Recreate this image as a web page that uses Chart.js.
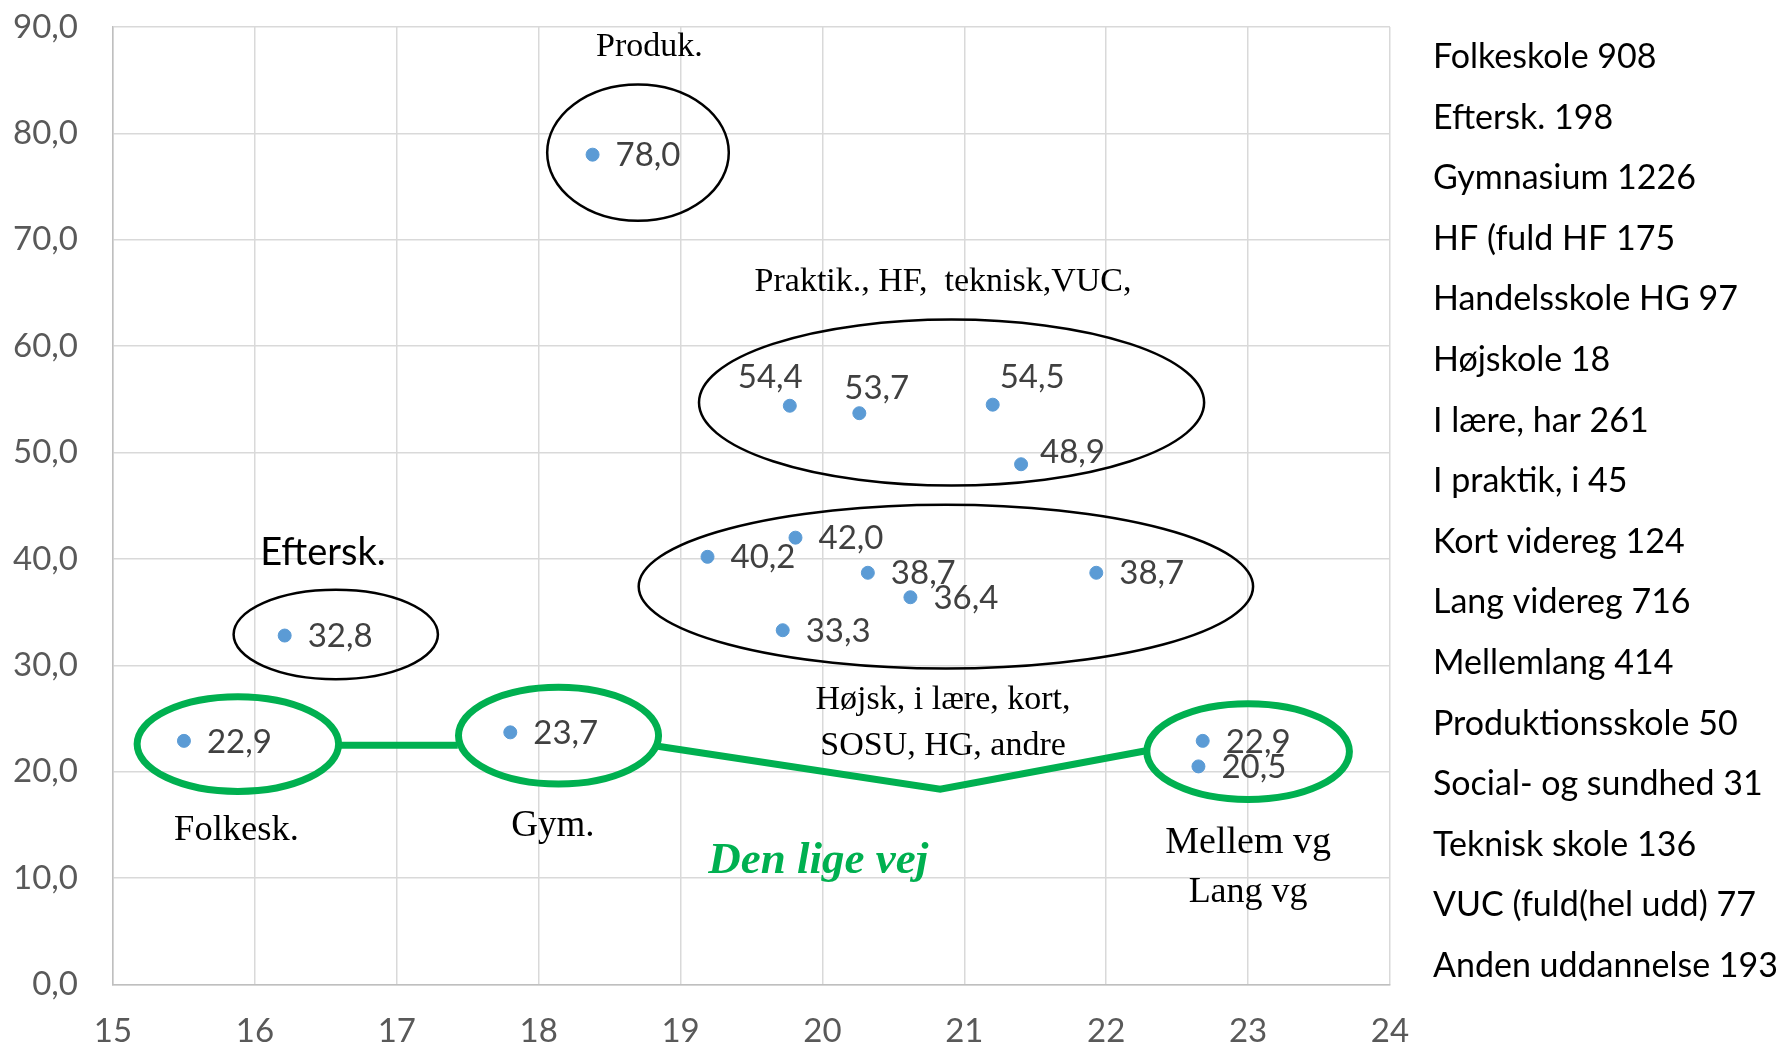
<!DOCTYPE html>
<html>
<head>
<meta charset="utf-8">
<script src="https://cdn.jsdelivr.net/npm/chart.js@4.4.1/dist/chart.umd.min.js"></script>
<style>
    html, body { margin: 0; padding: 0; background: #fff; }
</style>
</head>
<body>
<canvas id="myChart" width="1785" height="1047"></canvas>
<script>
// punkterne: alder (x) og andel (y)
let ages = [15.5, 16.21, 17.8, 18.38, 19.77, 20.26, 21.2, 21.4, 19.19, 19.81, 20.32, 20.62, 21.93, 19.72, 22.68, 22.65];
let shares = [22.9, 32.8, 23.7, 78.0, 54.4, 53.7, 54.5, 48.9, 40.2, 42.0, 38.7, 36.4, 38.7, 33.3, 22.9, 20.5];
// hvor tallet står i forhold til punktet
let labelSpots = ['r', 'r', 'r', 'r', 'ul', 'u', 'ur', 'rup', 'r', 'r', 'r', 'r', 'r', 'r', 'r', 'r'];

let xTicks = [15, 16, 17, 18, 19, 20, 21, 22, 23, 24];
let yTicks = [0, 10, 20, 30, 40, 50, 60, 70, 80, 90];

// listen til højre
let groupNames = ['Folkeskole', 'Eftersk.', 'Gymnasium', 'HF (fuld HF', 'Handelsskole HG', 'Højskole', 'I lære, har', 'I praktik, i',
    'Kort videreg', 'Lang videreg', 'Mellemlang', 'Produktionsskole', 'Social- og sundhed', 'Teknisk skole', 'VUC (fuld(hel udd)', 'Anden uddannelse'];
let groupCounts = [908, 198, 1226, 175, 97, 18, 261, 45, 124, 716, 414, 50, 31, 136, 77, 193];

const spotOffsets = {
    r: [23, 1],
    ul: [-52, -28],
    u: [-15, -25],
    ur: [7, -27],
    rup: [19, -12]
};

// tegninger ovenpå (i akse-enheder)
const ellipses = [
    { x: 18.70, y: 78.2, rx: 0.64, ry: 6.4, color: '#000', width: 2.5 },
    { x: 20.91, y: 54.7, rx: 1.78, ry: 7.8, color: '#000', width: 2.5 },
    { x: 20.87, y: 37.4, rx: 2.165, ry: 7.7, color: '#000', width: 2.5 },
    { x: 16.57, y: 32.9, rx: 0.72, ry: 4.2, color: '#000', width: 2.5 },
    { x: 15.88, y: 22.6, rx: 0.71, ry: 4.45, color: '#00B050', width: 7 },
    { x: 18.14, y: 23.4, rx: 0.705, ry: 4.55, color: '#00B050', width: 7 },
    { x: 23.0, y: 21.9, rx: 0.714, ry: 4.5, color: '#00B050', width: 7 }
];
const greenPaths = [
    [[16.59, 22.5], [17.43, 22.5]],
    [[18.84, 22.4], [20.83, 18.35], [22.29, 22.0]]
];
const notes = [
    { t: 'Produk.', x: 18.78, y: 88.1, font: '34px "Liberation Serif"', color: '#000' },
    { t: 'Praktik., HF,  teknisk,VUC,', x: 20.85, y: 66.0, font: '34px "Liberation Serif"', color: '#000' },
    { t: 'Eftersk.', x: 16.48, y: 40.6, font: '38px Lato', color: '#000' },
    { t: 'Folkesk.', x: 15.87, y: 14.5, font: '36.5px "Liberation Serif"', color: '#000' },
    { t: 'Gym.', x: 18.10, y: 14.9, font: '37px "Liberation Serif"', color: '#000' },
    { t: 'Højsk, i lære, kort,', x: 20.85, y: 26.7, font: '34px "Liberation Serif"', color: '#000' },
    { t: 'SOSU, HG, andre', x: 20.85, y: 22.4, font: '34px "Liberation Serif"', color: '#000' },
    { t: 'Den lige vej', x: 19.97, y: 11.6, font: 'italic bold 45px "Liberation Serif"', color: '#00B050' },
    { t: 'Mellem vg', x: 23.0, y: 13.3, font: '38px "Liberation Serif"', color: '#000' },
    { t: 'Lang vg', x: 23.0, y: 8.6, font: '36px "Liberation Serif"', color: '#000' }
];

let comma = v => v.toFixed(1).replace('.', ',');

const overlay = {
    id: 'overlay',
    beforeDatasetsDraw(chart) {
        const { ctx, scales: { x, y } } = chart;
        ctx.save();
        ellipses.forEach(e => {
            let cx = x.getPixelForValue(e.x), cy = y.getPixelForValue(e.y);
            let rx = x.getPixelForValue(e.x + e.rx) - cx;
            let ry = cy - y.getPixelForValue(e.y + e.ry);
            ctx.beginPath();
            ctx.ellipse(cx, cy, rx, ry, 0, 0, Math.PI * 2);
            ctx.strokeStyle = e.color;
            ctx.lineWidth = e.width;
            ctx.stroke();
        });
        ctx.strokeStyle = '#00B050';
        ctx.lineWidth = 7;
        greenPaths.forEach(p => {
            ctx.beginPath();
            p.forEach((pt, i) => {
                let px = x.getPixelForValue(pt[0]), py = y.getPixelForValue(pt[1]);
                if (i === 0) ctx.moveTo(px, py); else ctx.lineTo(px, py);
            });
            ctx.stroke();
        });
        ctx.restore();
    },
    afterDatasetsDraw(chart) {
        const { ctx, scales: { x, y } } = chart;
        ctx.save();
        ctx.textBaseline = 'middle';
        // tal ved punkterne
        ctx.font = '33px Lato';
        ctx.fillStyle = '#404040';
        ctx.textAlign = 'left';
        chart.getDatasetMeta(0).data.forEach((pt, i) => {
            let off = spotOffsets[labelSpots[i]];
            ctx.fillText(comma(shares[i]), pt.x + off[0], pt.y + off[1]);
        });
        // tekster i plottet
        ctx.textAlign = 'center';
        notes.forEach(n => {
            ctx.font = n.font;
            ctx.fillStyle = n.color;
            ctx.fillText(n.t, x.getPixelForValue(n.x), y.getPixelForValue(n.y));
        });
        // listen til højre
        ctx.textAlign = 'left';
        ctx.font = '34px Lato';
        ctx.fillStyle = '#000';
        groupNames.forEach((name, i) => {
            ctx.fillText(name + ' ' + groupCounts[i], chart.chartArea.right + 43, 57 + i * 60.6);
        });
        ctx.restore();
    }
};

let ctx = document.getElementById('myChart').getContext('2d');

let myChart = new Chart(ctx, {
    type: 'scatter',
    data: {
        datasets: [{
            data: ages.map((a, i) => ({ x: a, y: shares[i] })),
            backgroundColor: '#5B9BD5',
            borderColor: '#5B9BD5',
            pointRadius: 6.5,
            pointHoverRadius: 6.5
        }]
    },
    options: {
        responsive: false,
        animation: false,
        devicePixelRatio: 1,
        layout: { padding: { top: 27, right: 395, left: 0, bottom: 0 } },
        plugins: { legend: { display: false }, tooltip: { enabled: false } },
        scales: {
            x: {
                type: 'linear',
                min: 15,
                max: 24,
                afterBuildTicks: s => { s.ticks = xTicks.map(v => ({ value: v })); },
                afterFit: s => { s.height = 62.5; },
                ticks: { color: '#595959', font: { family: 'Lato', size: 33 }, padding: 27 },
                grid: { color: '#D9D9D9', lineWidth: 1.5, drawTicks: false },
                border: { color: '#BFBFBF', width: 1.5 }
            },
            y: {
                min: 0,
                max: 90,
                afterBuildTicks: s => { s.ticks = yTicks.map(v => ({ value: v })); },
                afterFit: s => { s.width = 113; s.paddingTop = 0; s.paddingBottom = 0; },
                ticks: { color: '#595959', font: { family: 'Lato', size: 33 }, padding: 35, callback: v => comma(v) },
                grid: { color: '#D9D9D9', lineWidth: 1.5, drawTicks: false },
                border: { color: '#BFBFBF', width: 1.5 }
            }
        }
    },
    plugins: [overlay]
});
</script>
</body>
</html>
